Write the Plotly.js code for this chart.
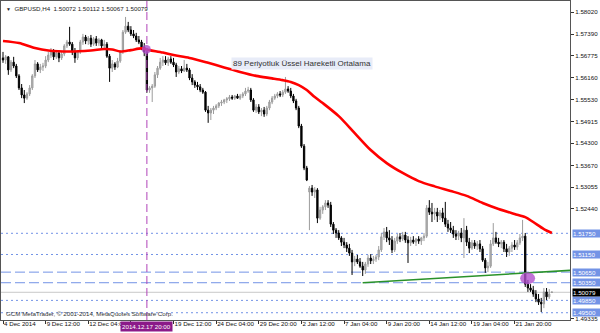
<!DOCTYPE html>
<html><head><meta charset="utf-8">
<script src="https://cdn.plot.ly/plotly-3.0.1.min.js"></script>
<style>html,body{margin:0;padding:0;background:#fff}#c{width:600px;height:333px}</style>
</head><body><div id="c"></div>
<script>
// ---- data (GBPUSD H4) ----
const symbolTitle = 'GBPUSD,H4  1.50072 1.50112 1.50067 1.50079';
const openP = [
1.5672,1.5666,1.5675,1.5638,1.5660,1.5649,1.5621,1.5587,1.5567,1.5558,
1.5570,1.5587,1.5621,1.5655,1.5638,1.5646,1.5649,1.5666,1.5680,1.5689,
1.5675,1.5686,1.5672,1.5683,1.5706,1.5717,1.5711,1.5689,1.5672,1.5689,
1.5717,1.5731,1.5720,1.5728,1.5711,1.5726,1.5714,1.5723,1.5706,1.5711,
1.5677,1.5643,1.5655,1.5646,1.5663,1.5689,1.5745,1.5762,1.5751,1.5740,
1.5734,1.5723,1.5717,1.5703,1.5689,1.5581,1.5587,1.5592,1.5624,1.5643,
1.5660,1.5666,1.5658,1.5669,1.5660,1.5652,1.5632,1.5641,1.5635,1.5643,
1.5638,1.5615,1.5604,1.5595,1.5590,1.5581,1.5575,1.5524,1.5516,1.5524,
1.5530,1.5536,1.5544,1.5547,1.5553,1.5556,1.5561,1.5558,1.5564,1.5558,
1.5564,1.5570,1.5578,1.5581,1.5553,1.5524,1.5533,1.5519,1.5524,1.5513,
1.5530,1.5547,1.5558,1.5564,1.5570,1.5567,1.5575,1.5584,1.5578,1.5564,
1.5550,1.5530,1.5479,1.5422,1.5360,1.5292,1.5303,1.5292,1.5298,1.5218,
1.5241,1.5250,1.5261,1.5255,1.5201,1.5184,1.5176,1.5162,1.5150,1.5142,
1.5133,1.5119,1.5094,1.5102,1.5094,1.5082,1.5071,1.5088,1.5105,1.5097,
1.5102,1.5108,1.5128,1.5165,1.5179,1.5162,1.5156,1.5128,1.5153,1.5165,
1.5159,1.5170,1.5156,1.5148,1.5156,1.5150,1.5159,1.5153,1.5162,1.5167,
1.5247,1.5235,1.5230,1.5235,1.5224,1.5233,1.5218,1.5201,1.5190,1.5184,
1.5173,1.5167,1.5176,1.5162,1.5184,1.5150,1.5133,1.5148,1.5139,1.5145,
1.5131,1.5099,1.5077,1.5082,1.5145,1.5162,1.5150,1.5145,1.5150,1.5131,
1.5122,1.5133,1.5142,1.5136,1.5148,1.5162,1.5167,1.5031,1.5020,1.5014,
1.5003,1.4989,1.4980,1.4975,1.5009,1.4995,1.50072];
const highP = [
1.5689,1.5680,1.5677,1.5666,1.5675,1.5655,1.5626,1.5598,1.5581,1.5575,
1.5595,1.5626,1.5666,1.5660,1.5655,1.5658,1.5677,1.5689,1.5700,1.5697,
1.5694,1.5694,1.5689,1.5711,1.5723,1.5760,1.5717,1.5700,1.5694,1.5723,
1.5740,1.5737,1.5734,1.5737,1.5731,1.5734,1.5728,1.5726,1.5723,1.5717,
1.5683,1.5666,1.5660,1.5672,1.5694,1.5751,1.5788,1.5774,1.5762,1.5751,
1.5743,1.5734,1.5723,1.5714,1.5700,1.5592,1.5598,1.5632,1.5649,1.5672,
1.5677,1.5677,1.5675,1.5677,1.5672,1.5658,1.5649,1.5649,1.5666,1.5655,
1.5643,1.5626,1.5609,1.5604,1.5598,1.5587,1.5578,1.5536,1.5530,1.5536,
1.5541,1.5547,1.5553,1.5556,1.5561,1.5567,1.5567,1.5567,1.5570,1.5570,
1.5575,1.5587,1.5590,1.5587,1.5558,1.5541,1.5541,1.5530,1.5533,1.5536,
1.5553,1.5564,1.5570,1.5575,1.5578,1.5581,1.5618,1.5592,1.5587,1.5570,
1.5556,1.5536,1.5485,1.5428,1.5366,1.5309,1.5312,1.5306,1.5303,1.5250,
1.5255,1.5269,1.5269,1.5264,1.5207,1.5190,1.5184,1.5167,1.5162,1.5150,
1.5145,1.5128,1.5111,1.5114,1.5105,1.5094,1.5094,1.5114,1.5116,1.5111,
1.5114,1.5139,1.5176,1.5190,1.5193,1.5184,1.5167,1.5162,1.5173,1.5176,
1.5179,1.5179,1.5167,1.5165,1.5167,1.5162,1.5167,1.5165,1.5176,1.5255,
1.5269,1.5261,1.5247,1.5247,1.5241,1.5247,1.5264,1.5213,1.5207,1.5196,
1.5184,1.5182,1.5190,1.5218,1.5196,1.5162,1.5156,1.5156,1.5153,1.5156,
1.5139,1.5105,1.5094,1.5156,1.5204,1.5179,1.5162,1.5156,1.5156,1.5145,
1.5139,1.5150,1.5156,1.5156,1.5173,1.5213,1.5176,1.5043,1.5031,1.5026,
1.5014,1.5003,1.4992,1.5020,1.5020,1.5017,1.50112];
const lowP = [
1.5658,1.5655,1.5624,1.5632,1.5643,1.5615,1.5581,1.5558,1.5544,1.5553,
1.5564,1.5581,1.5615,1.5632,1.5629,1.5635,1.5643,1.5660,1.5672,1.5666,
1.5669,1.5660,1.5666,1.5677,1.5700,1.5706,1.5680,1.5658,1.5666,1.5683,
1.5709,1.5711,1.5709,1.5703,1.5706,1.5706,1.5706,1.5697,1.5694,1.5672,
1.5604,1.5632,1.5638,1.5643,1.5658,1.5683,1.5740,1.5745,1.5734,1.5728,
1.5717,1.5711,1.5694,1.5677,1.5573,1.5573,1.5547,1.5587,1.5615,1.5638,
1.5649,1.5652,1.5649,1.5655,1.5646,1.5618,1.5626,1.5629,1.5632,1.5632,
1.5609,1.5595,1.5587,1.5581,1.5575,1.5570,1.5519,1.5488,1.5496,1.5513,
1.5524,1.5530,1.5536,1.5541,1.5544,1.5550,1.5553,1.5553,1.5556,1.5553,
1.5558,1.5564,1.5573,1.5547,1.5519,1.5516,1.5513,1.5507,1.5505,1.5507,
1.5524,1.5541,1.5553,1.5558,1.5561,1.5561,1.5570,1.5573,1.5558,1.5544,
1.5524,1.5473,1.5417,1.5354,1.5323,1.5184,1.5281,1.5275,1.5204,1.5213,
1.5230,1.5241,1.5247,1.5193,1.5173,1.5162,1.5156,1.5139,1.5133,1.5122,
1.5111,1.5057,1.5082,1.5088,1.5077,1.5054,1.5060,1.5080,1.5088,1.5088,
1.5094,1.5099,1.5122,1.5156,1.5150,1.5142,1.5119,1.5122,1.5145,1.5150,
1.5153,1.5148,1.5091,1.5139,1.5145,1.5139,1.5145,1.5142,1.5153,1.5162,
1.5227,1.5207,1.5213,1.5207,1.5213,1.5207,1.5193,1.5179,1.5176,1.5162,
1.5156,1.5156,1.5150,1.5105,1.5139,1.5119,1.5128,1.5131,1.5128,1.5122,
1.5094,1.5063,1.5065,1.5077,1.5139,1.5145,1.5136,1.5133,1.5122,1.5108,
1.5111,1.5122,1.5128,1.5128,1.5142,1.5153,1.5023,1.5009,1.5009,1.4995,
1.4980,1.4972,1.4952,1.4963,1.4986,1.4989,1.50067];
const closeP = [
1.5666,1.5675,1.5638,1.5660,1.5649,1.5621,1.5587,1.5567,1.5558,1.5570,
1.5587,1.5621,1.5655,1.5638,1.5646,1.5649,1.5666,1.5680,1.5689,1.5675,
1.5686,1.5672,1.5683,1.5706,1.5717,1.5711,1.5689,1.5672,1.5689,1.5717,
1.5731,1.5720,1.5728,1.5711,1.5726,1.5714,1.5723,1.5706,1.5711,1.5677,
1.5643,1.5655,1.5646,1.5663,1.5689,1.5745,1.5762,1.5751,1.5740,1.5734,
1.5723,1.5717,1.5703,1.5689,1.5581,1.5587,1.5592,1.5624,1.5643,1.5660,
1.5666,1.5658,1.5669,1.5660,1.5652,1.5632,1.5641,1.5635,1.5643,1.5638,
1.5615,1.5604,1.5595,1.5590,1.5581,1.5575,1.5524,1.5516,1.5524,1.5530,
1.5536,1.5544,1.5547,1.5553,1.5556,1.5561,1.5558,1.5564,1.5558,1.5564,
1.5570,1.5578,1.5581,1.5553,1.5524,1.5533,1.5519,1.5524,1.5513,1.5530,
1.5547,1.5558,1.5564,1.5570,1.5567,1.5575,1.5584,1.5578,1.5564,1.5550,
1.5530,1.5479,1.5422,1.5360,1.5326,1.5303,1.5292,1.5298,1.5218,1.5241,
1.5250,1.5261,1.5255,1.5201,1.5184,1.5176,1.5162,1.5150,1.5142,1.5133,
1.5119,1.5094,1.5102,1.5094,1.5082,1.5071,1.5088,1.5105,1.5097,1.5102,
1.5108,1.5128,1.5165,1.5179,1.5162,1.5156,1.5128,1.5153,1.5165,1.5159,
1.5170,1.5156,1.5148,1.5156,1.5150,1.5159,1.5153,1.5162,1.5167,1.5247,
1.5235,1.5230,1.5235,1.5224,1.5233,1.5218,1.5201,1.5190,1.5184,1.5173,
1.5167,1.5176,1.5162,1.5184,1.5150,1.5133,1.5148,1.5139,1.5145,1.5131,
1.5099,1.5077,1.5082,1.5145,1.5162,1.5150,1.5145,1.5150,1.5131,1.5122,
1.5133,1.5142,1.5136,1.5148,1.5162,1.5167,1.5031,1.5020,1.5014,1.5003,
1.4989,1.4980,1.4975,1.5009,1.4995,1.5003,1.50079];

// 89-period EMA, read at selected bars
const emaBar = [0,6,12,17,25,33,38,41,44,48,52,55,60,64,70,77,83,89,95,101,105,108,111,114,117,120,126,132,138,144,150,156,162,168,174,180,186,192,196,199,203,206];
const emaVal = [1.5720,1.5714,1.5700,1.5693,1.5690,1.5693,1.5697,1.5696,1.5690,1.5694,1.5699,1.5694,1.5687,1.5680,1.5672,1.5658,1.5645,1.5632,1.5621,1.5614,1.5609,1.5604,1.5595,1.5581,1.5561,1.5544,1.5507,1.5459,1.5411,1.5374,1.5346,1.5323,1.5308,1.5295,1.5281,1.5261,1.5244,1.5230,1.5221,1.5207,1.5187,1.5176];
const emaLabel = '89 Periyotluk Üssel Hareketli Ortalama';

// green trend line
const trendBar = [135, 212.8];
const trendVal = [1.5035, 1.5070];

// horizontal levels
const levelVals = [1.5175, 1.5115, 1.5065, 1.5035, 1.4985, 1.4950];
const levelKind = ['dot','dot','dash','dash','dot','dot'];
const bidPrice = 1.50079;

// vertical marker
const markBar = 54;
const markLabel = '2014.12.17 20:00';
// circle markers [bar, price]
const circleA = [53.8, 1.5696];
const circleB = [196.9, 1.5048];

// axis ticks
const xTickBars = [0,16,32,48,64,80,96,112,128,144,160,176,192];
const xTickText = ['4 Dec 2014','9 Dec 12:00','12 Dec 04:00','','19 Dec 12:00','24 Dec 04:00','29 Dec 20:00','2 Jan 12:00','7 Jan 04:00','9 Jan 20:00','14 Jan 12:00','19 Jan 04:00','21 Jan 20:00'];
const yTickVals = [1.58020,1.57390,1.56775,1.56160,1.55530,1.54915,1.54300,1.53670,1.53055,1.52440,1.49335];
const copyright = 'GCM MetaTrader, © 2001-2014, MetaQuotes Software Corp.';

// ---- build ----
const bars = openP.map((_, i) => i);
const FONT = 'Liberation Sans, Arial, sans-serif';
const LVL = '#7393e6';

const traces = [
  {type:'candlestick', x:bars, open:openP, high:highP, low:lowP, close:closeP,
   increasing:{line:{color:'#9c9c9c', width:1}, fillcolor:'#b8b8b8'},
   decreasing:{line:{color:'#000000', width:1}, fillcolor:'#000000'},
   whiskerwidth:0, hoverinfo:'skip'},
  {type:'scatter', mode:'lines', x:emaBar, y:emaVal,
   line:{color:'#ff0000', width:2.6, shape:'spline', smoothing:0.8}, hoverinfo:'skip'},
  {type:'scatter', mode:'lines', x:trendBar, y:trendVal,
   line:{color:'#2a922a', width:1.6}, hoverinfo:'skip'}
];

const shapes = [];
levelVals.forEach((v, i) => {
  shapes.push({type:'line', xref:'paper', x0:0, x1:1, yref:'y', y0:v, y1:v, layer:'below',
    line:{color:LVL, width:1, dash: levelKind[i]==='dot' ? '2px,3px' : '10px,4px'}});
});
shapes.push({type:'line', xref:'paper', x0:0, x1:1, yref:'y', y0:bidPrice, y1:bidPrice, layer:'below',
  line:{color:'#c8c8c8', width:1}});
shapes.push({type:'line', xref:'x', x0:markBar, x1:markBar, yref:'paper', y0:0, y1:1,
  line:{color:'#b044b8', width:1, dash:'8px,4px'}});
[[circleA, 9, 9], [circleB, 15, 12]].forEach(([c, w, h]) => {
  shapes.push({type:'circle', xref:'x', yref:'y', xsizemode:'pixel', ysizemode:'pixel',
    xanchor:c[0], yanchor:c[1], x0:-w/2, x1:w/2, y0:-h/2, y1:h/2,
    fillcolor:'#b050cc', opacity:0.8, line:{width:0}});
});

const annotations = [];
levelVals.forEach(v => {
  annotations.push({xref:'paper', x:1, xanchor:'left', xshift:2, yref:'y', y:v, yanchor:'middle',
    text:v.toFixed(5), showarrow:false, bgcolor:LVL, font:{family:FONT, size:6.2, color:'#ffffff'},
    width:28, align:'left', borderpad:0});
});
annotations.push({xref:'paper', x:1, xanchor:'left', xshift:2, yref:'y', y:bidPrice, yanchor:'middle',
  text:bidPrice.toFixed(5), showarrow:false, bgcolor:'#000000', font:{family:FONT, size:6.2, color:'#ffffff'},
  width:28, align:'left', borderpad:0});
annotations.push({xref:'x', x:markBar, xanchor:'center', yref:'paper', y:0, yanchor:'top', yshift:-1,
  text:markLabel, showarrow:false, bgcolor:'#8b1a89', font:{family:FONT, size:6.2, color:'#ffffff'}, borderpad:1});
annotations.push({xref:'paper', x:0, xanchor:'left', xshift:3, yref:'paper', y:1, yanchor:'top', yshift:-2,
  text:'<span style="font-size:5px">▼</span>  ' + symbolTitle, showarrow:false, font:{family:FONT, size:6.2, color:'#222'}});
annotations.push({xref:'paper', x:0, xanchor:'left', xshift:3, yref:'paper', y:0, yanchor:'bottom', yshift:1,
  text:copyright, showarrow:false, font:{family:FONT, size:6.2, color:'#333'}});
annotations.push({xref:'x', x:112.2, xanchor:'center', yref:'y', y:1.5655, yanchor:'middle',
  text:emaLabel, showarrow:false, bgcolor:'#e8ecf8', font:{family:FONT, size:8, color:'#333'}, borderpad:1});

const layout = {
  width:600, height:333,
  margin:{l:1, r:30, t:1, b:13, pad:0},
  paper_bgcolor:'#ffffff', plot_bgcolor:'#ffffff',
  showlegend:false,
  font:{family:FONT, size:6.2, color:'#111'},
  xaxis:{range:[-0.75, 212.8], tickvals:xTickBars, ticktext:xTickText, ticks:'outside', ticklen:3,
    tickcolor:'#333', showgrid:false, zeroline:false, showline:true, linecolor:'#555', linewidth:1, mirror:true,
    tickangle:0, ticklabelposition:'outside right', ticklabeloverflow:'allow', ticklabelstandoff:-2,
    rangeslider:{visible:false},
    tickfont:{family:FONT, size:6.2, color:'#111'}},
  yaxis:{side:'right', range:[1.49294, 1.58332], tickvals:yTickVals, ticktext:yTickVals.map(v => v.toFixed(5)),
    ticks:'outside', ticklen:3, tickcolor:'#333', showgrid:false, zeroline:false, showline:true, mirror:true,
    linecolor:'#555', linewidth:1, tickfont:{family:FONT, size:6.2, color:'#111'}},
  shapes, annotations
};

Plotly.newPlot('c', traces, layout, {staticPlot:true, displayModeBar:false});
</script></body></html>
